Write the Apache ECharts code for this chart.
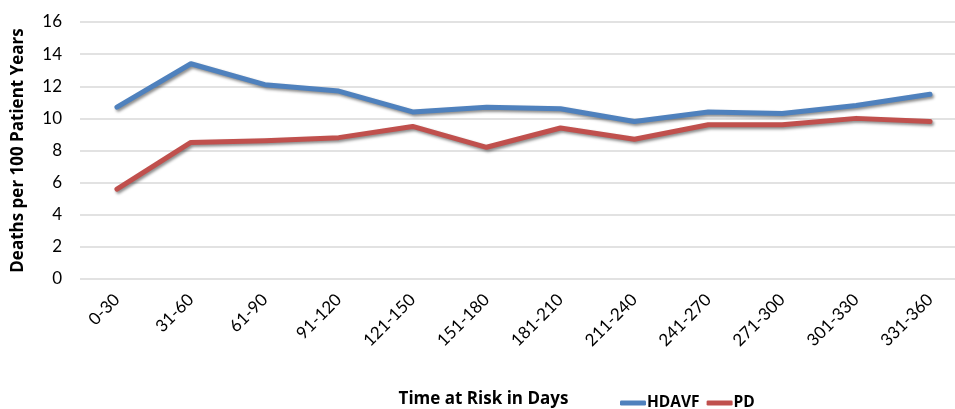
<!DOCTYPE html>
<html>
<head>
<meta charset="utf-8">
<script src="https://cdn.jsdelivr.net/npm/echarts@6/dist/echarts.min.js"></script>
<style>
  html, body { margin: 0; padding: 0; background: #ffffff; }
  #chart { width: 955px; height: 409px; }
</style>
</head>
<body>
<div id="chart"></div>
<script>
// Mortality rate by interval of time at risk
const categories = ['0-30', '31-60', '61-90', '91-120', '121-150', '151-180',
  '181-210', '211-240', '241-270', '271-300', '301-330', '331-360'];
const hdavf = [10.7, 13.4, 12.1, 11.7, 10.4, 10.7, 10.6, 9.8, 10.4, 10.3, 10.8, 11.5];
const pd = [5.6, 8.5, 8.6, 8.8, 9.5, 8.2, 9.4, 8.7, 9.6, 9.6, 10.0, 9.8];
const yTicks = { min: 0, max: 16, interval: 2 };

const FONT = 'Lato, "Open Sans", sans-serif';
const BOLD_FONT = '"Open Sans", Lato, sans-serif';

function lineSeries(name, data, color) {
  return {
    name: name,
    type: 'line',
    data: data,
    symbol: 'none',
    smooth: false,
    lineStyle: {
      color: color,
      width: 5,
      cap: 'round',
      join: 'round',
      shadowColor: 'rgba(0,0,0,0.45)',
      shadowBlur: 3,
      shadowOffsetX: 1.5,
      shadowOffsetY: 2
    },
    itemStyle: { color: color }
  };
}

const chart = echarts.init(document.getElementById('chart'), null, { renderer: 'canvas' });
chart.setOption({
  animation: false,
  backgroundColor: '#ffffff',
  grid: { left: 80, top: 22, width: 887, height: 257, containLabel: false, outerBoundsMode: 'none' },
  legend: {
    left: 615,
    top: 390,
    itemWidth: 26,
    itemHeight: 5,
    itemGap: 7,
    icon: 'roundRect',
    textStyle: { fontFamily: BOLD_FONT, fontWeight: 'bold', fontSize: 15.5, color: '#000', padding: [0, 0, 0, -4] },
    data: ['HDAVF', 'PD']
  },
  xAxis: {
    type: 'category',
    data: categories,
    boundaryGap: true,
    name: 'Time at Risk in Days',
    nameLocation: 'middle',
    nameGap: 112,
    nameTextStyle: { fontFamily: BOLD_FONT, fontWeight: 'bold', fontSize: 17, color: '#000', padding: [0, 80, 0, 0] },
    axisLine: { show: false },
    axisTick: { show: false },
    axisLabel: { rotate: 45, margin: 18, fontFamily: FONT, fontSize: 17, color: '#000' }
  },
  yAxis: {
    type: 'value',
    min: yTicks.min,
    max: yTicks.max,
    interval: yTicks.interval,
    name: 'Deaths per 100 Patient Years',
    nameLocation: 'middle',
    nameGap: 53,
    nameTextStyle: { fontFamily: BOLD_FONT, fontWeight: 'bold', fontSize: 17, color: '#000' },
    axisLine: { show: false },
    axisTick: { show: false },
    axisLabel: { margin: 18, fontFamily: FONT, fontSize: 17, color: '#000' },
    splitLine: { lineStyle: { color: '#d9d9d9', width: 1.5 } }
  },
  series: [
    lineSeries('HDAVF', hdavf, '#4f81bd'),
    lineSeries('PD', pd, '#c0504d')
  ]
});
</script>
</body>
</html>
